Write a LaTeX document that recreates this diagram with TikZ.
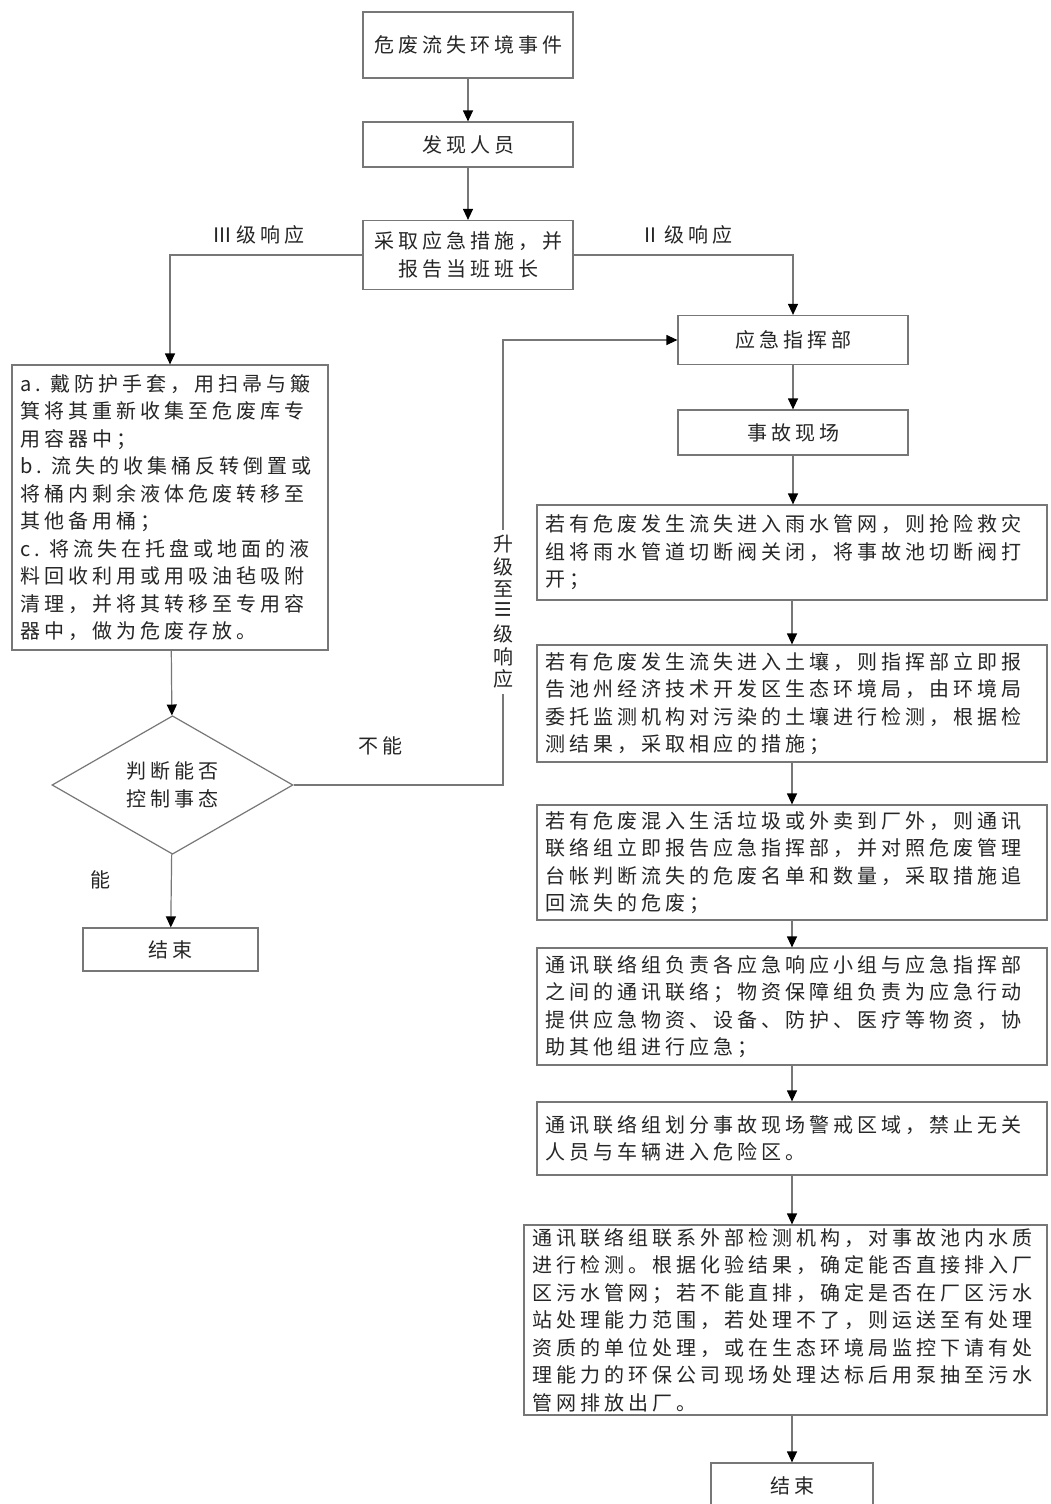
\documentclass[tikz,border=0pt]{standalone}
\usepackage{fontspec}
\setmainfont{Noto Sans CJK SC}[LetterSpace=20]
\usetikzlibrary{shapes.geometric,arrows.meta}
\definecolor{linec}{HTML}{777777}
\definecolor{txtc}{HTML}{262626}
\begin{document}
\begin{tikzpicture}[x=1pt,y=-1pt,
  box/.style={draw=linec,line width=1.2pt,rectangle,inner xsep=8pt,inner ysep=0pt,
    align=left,text=txtc,font=\fontsize{20}{27.5}\selectfont},
  cbox/.style={box,align=center},
  arr/.style={draw=linec,line width=1.2pt,-{Triangle[length=11pt,width=10pt,color=black]}},
  lbl/.style={text=txtc,font=\fontsize{20}{24}\selectfont,inner sep=0pt}
]
\useasboundingbox[fill=white] (0,0) rectangle (1051,1504);

% main column
\node[cbox,minimum width=210pt,minimum height=66pt] (evt) at (468,45) {危废流失环境事件};
\node[cbox,minimum width=210pt,minimum height=45pt] (find) at (468,144.5) {发现人员};
\node[cbox,minimum width=210pt,minimum height=69pt] (act) at (468,255) {采取应急措施，并\\报告当班班长};

% level III branch (left)
\node[box,text width=300pt,minimum height=285pt] (lefta) at (170,507.5) {a. 戴防护手套，用扫帚与簸\\箕将其重新收集至危废库专\\用容器中；\\b. 流失的收集桶反转倒置或\\将桶内剩余液体危废转移至\\其他备用桶；\\c. 将流失在托盘或地面的液\\料回收利用或用吸油毡吸附\\清理，并将其转移至专用容\\器中，做为危废存放。};
\node[diamond,draw=linec,line width=1.2pt,minimum width=241pt,minimum height=120pt,
  inner sep=0pt,align=center,text=txtc,font=\fontsize{20}{28}\selectfont] (judge) at (172.5,785) {判断能否\\控制事态};
\node[cbox,minimum width=175pt,minimum height=43pt] (endl) at (170.5,949.5) {结束};

% level II branch (right)
\node[cbox,minimum width=230pt,minimum height=49pt] (cmd) at (793,340) {应急指挥部};
\node[cbox,minimum width=230pt,minimum height=45pt] (scene) at (793,432.5) {事故现场};
\node[box,text width=494pt,minimum height=95pt] (r1) at (792,552.5) {若有危废发生流失进入雨水管网，则抢险救灾\\组将雨水管道切断阀关闭，将事故池切断阀打\\开；};
\node[box,text width=494pt,minimum height=117pt] (r2) at (792,703.5) {若有危废发生流失进入土壤，则指挥部立即报\\告池州经济技术开发区生态环境局，由环境局\\委托监测机构对污染的土壤进行检测，根据检\\测结果，采取相应的措施；};
\node[box,text width=494pt,minimum height=115pt] (r3) at (792,862.5) {若有危废混入生活垃圾或外卖到厂外，则通讯\\联络组立即报告应急指挥部，并对照危废管理\\台帐判断流失的危废名单和数量，采取措施追\\回流失的危废；};
\node[box,text width=494pt,minimum height=117pt] (r4) at (792,1006.5) {通讯联络组负责各应急响应小组与应急指挥部\\之间的通讯联络；物资保障组负责为应急行动\\提供应急物资、设备、防护、医疗等物资，协\\助其他组进行应急；};
\node[box,text width=494pt,minimum height=73pt] (r5) at (792,1138.5) {通讯联络组划分事故现场警戒区域，禁止无关\\人员与车辆进入危险区。};
\node[box,text width=507pt,minimum height=190pt] (r6) at (785.5,1320) {通讯联络组联系外部检测机构，对事故池内水质\\进行检测。根据化验结果，确定能否直接排入厂\\区污水管网；若不能直排，确定是否在厂区污水\\站处理能力范围，若处理不了，则运送至有处理\\资质的单位处理，或在生态环境局监控下请有处\\理能力的环保公司现场处理达标后用泵抽至污水\\管网排放出厂。};
\node[cbox,minimum width=162pt,minimum height=46pt] (endr) at (792,1486) {结束};

% connectors
\draw[arr] (evt) -- (find);
\draw[arr] (find) -- (act);
\draw[arr] (act.west) -| (lefta.north);
\draw[arr] (act.east) -| (cmd.north);
\draw[arr] (lefta) -- (judge);
\draw[arr] (judge) -- (endl);
\draw[arr] (cmd) -- (scene);
\draw[arr] (scene.south) -- (scene.south |- r1.north);
\draw[arr] (r1) -- (r2);
\draw[arr] (r2) -- (r3);
\draw[arr] (r3) -- (r4);
\draw[arr] (r4) -- (r5);
\draw[arr] (r5.south) -- (r5.south |- r6.north);
\draw[arr] (r5.south |- r6.south) -- (endr.north);

% escalation path
\coordinate (esc1) at (503,785);
\coordinate (esc2) at (503,340);
\draw[arr] (judge.east) -- (esc1) -- (esc2) -- (cmd.west);

% labels
\node[lbl] (l3) at (258,235) {Ⅲ级响应};
\node[lbl] (l2) at (686,235) {Ⅱ级响应};
\node[lbl] (no) at (380,746) {不能};
\node[lbl] (yes) at (100,880) {能};
\node[lbl,fill=white,align=center,inner ysep=5pt,font=\fontsize{20}{22.5}\selectfont] (up) at (503,612) {升\\级\\至\\\rotatebox{90}{Ⅲ}\\级\\响\\应};
\end{tikzpicture}
\end{document}
